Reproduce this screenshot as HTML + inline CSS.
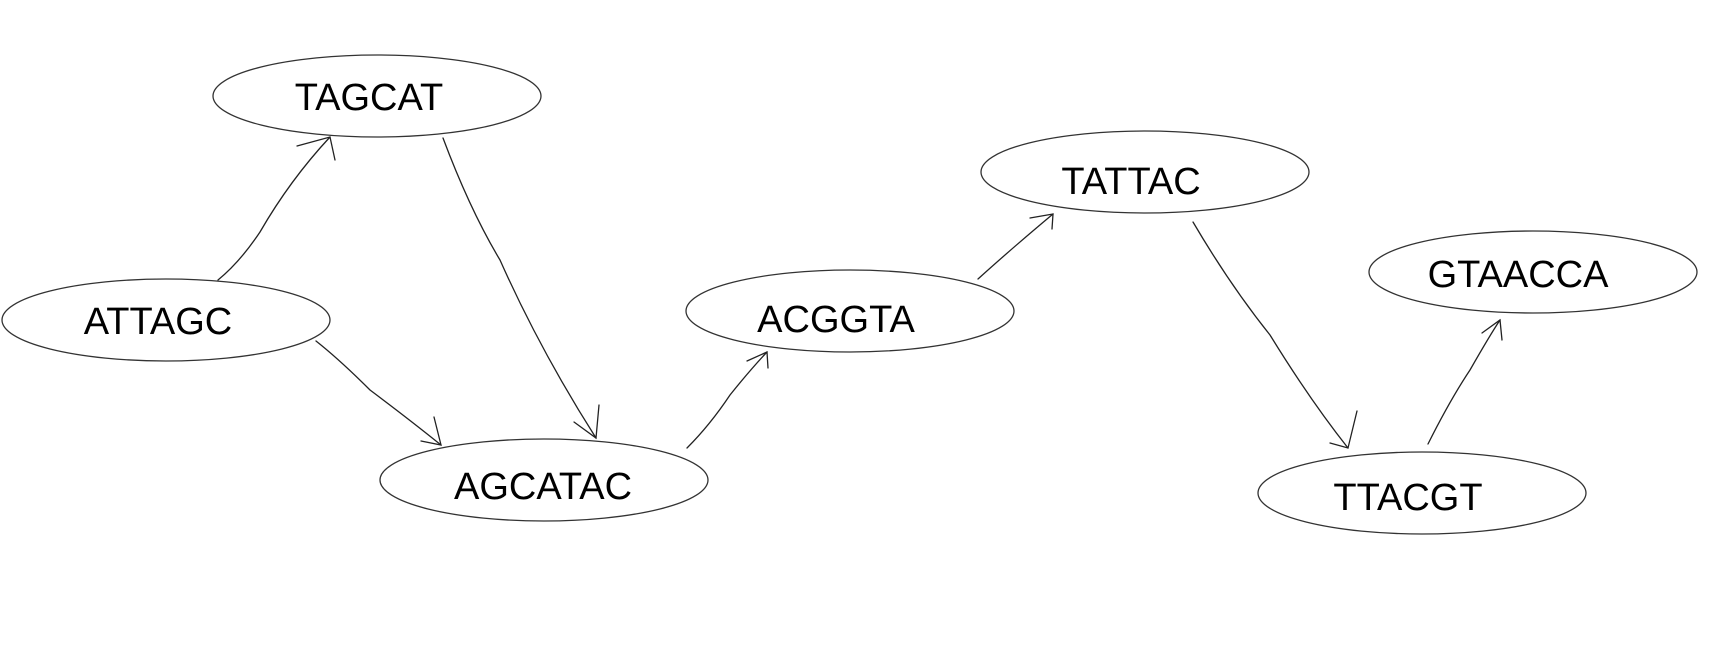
<!DOCTYPE html>
<html><head><style>
html,body{margin:0;padding:0;background:#fff;}
svg{display:block;}
text{font-family:"Liberation Sans",sans-serif;font-size:38px;fill:#000;}
</style></head><body>
<svg width="1729" height="658" viewBox="0 0 1729 658" xmlns="http://www.w3.org/2000/svg">
<g fill="none" stroke="#333" stroke-width="1.3">
<ellipse cx="377" cy="96" rx="164" ry="41"/>
<ellipse cx="166" cy="320" rx="164" ry="41"/>
<ellipse cx="544" cy="480" rx="164" ry="41"/>
<ellipse cx="850" cy="311" rx="164" ry="41"/>
<ellipse cx="1145" cy="172" rx="164" ry="41"/>
<ellipse cx="1533" cy="272" rx="164" ry="41"/>
<ellipse cx="1422" cy="493" rx="164" ry="41"/>
</g>
<g fill="none" stroke="#222" stroke-width="1.3" stroke-linecap="round">
<path d="M218 280 Q240 262 260 232 Q290 180 330 137"/>
<path d="M297 146 L330 137 L335 160"/>
<path d="M443 138 Q470 210 500 260 Q540 350 596 438"/>
<path d="M574 422 L596 438 L599 405"/>
<path d="M316 341 Q340 360 370 390 Q410 420 441 445"/>
<path d="M421 441 L441 445 L434 417"/>
<path d="M687 448 Q710 425 730 395 Q750 370 767 352"/>
<path d="M747 361 L767 352 L768 368"/>
<path d="M978 279 Q1010 250 1053 214"/>
<path d="M1030 218 L1053 214 L1052 229"/>
<path d="M1193 222 Q1230 285 1270 335 Q1310 400 1348 448"/>
<path d="M1330 443 L1348 448 L1357 411"/>
<path d="M1428 444 Q1450 400 1470 370 Q1490 335 1500 320"/>
<path d="M1482 333 L1500 320 L1502 340"/>
</g>
<g text-anchor="middle">
<text x="369" y="110">TAGCAT</text>
<text x="158" y="334">ATTAGC</text>
<text x="543" y="499">AGCATAC</text>
<text x="836" y="332">ACGGTA</text>
<text x="1131" y="194">TATTAC</text>
<text x="1518" y="287">GTAACCA</text>
<text x="1408" y="510">TTACGT</text>
</g>
</svg>
</body></html>
